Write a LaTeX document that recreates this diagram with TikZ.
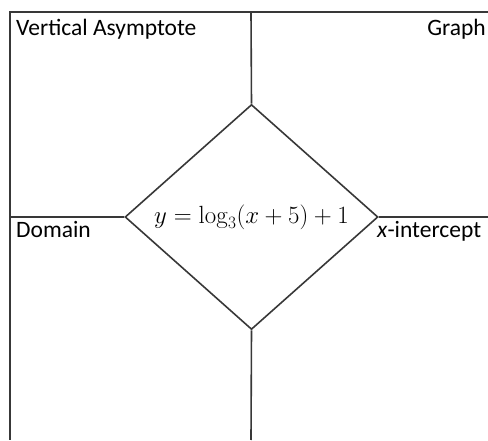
\documentclass[tikz,border=0pt]{standalone}
\usepackage[no-math]{fontspec}
\setmainfont{Carlito}
\usetikzlibrary{shapes.geometric}

\begin{document}
\begin{tikzpicture}[x=1pt,y=1pt,
		frame/.style={draw=black!78,line width=1.6pt},
		label/.style={inner sep=0pt,font=\fontsize{23.5}{28}\selectfont}]
		\useasboundingbox (0,0) rectangle (488,440);
		\coordinate (tl) at (10,428);
		\coordinate (tr) at (488,428);
		\coordinate (bl) at (10,0);
		\coordinate (midtop) at (251,428);
		\coordinate (midbot) at (251,0);
		\coordinate (midleft) at (10,223);
		\coordinate (midright) at (488,223);
		\node[diamond,frame,inner sep=0pt,minimum width=253pt,minimum height=225pt,
			font=\fontsize{25}{30}\selectfont] (eq) at (251.5,223) {$y=\log_3(x+5)+1$};
		\draw[frame] (tr)--(tl)--(bl);
		\draw[frame] (midtop)--(eq.north);
		\draw[frame] (eq.south)--(midbot);
		\draw[frame] (midleft)--(eq.west);
		\draw[frame] (eq.east)--(midright);
		\node[label,anchor=base west] (va) at (16,404) {Vertical Asymptote};
		\node[label,anchor=base east] (gr) at (486,404) {Graph};
		\node[label,anchor=base west] (dom) at (16,202) {Domain};
		\node[label,anchor=base west] (xint) at (377,202) {\textit{x}-intercept};
	\end{tikzpicture}
\end{document}
